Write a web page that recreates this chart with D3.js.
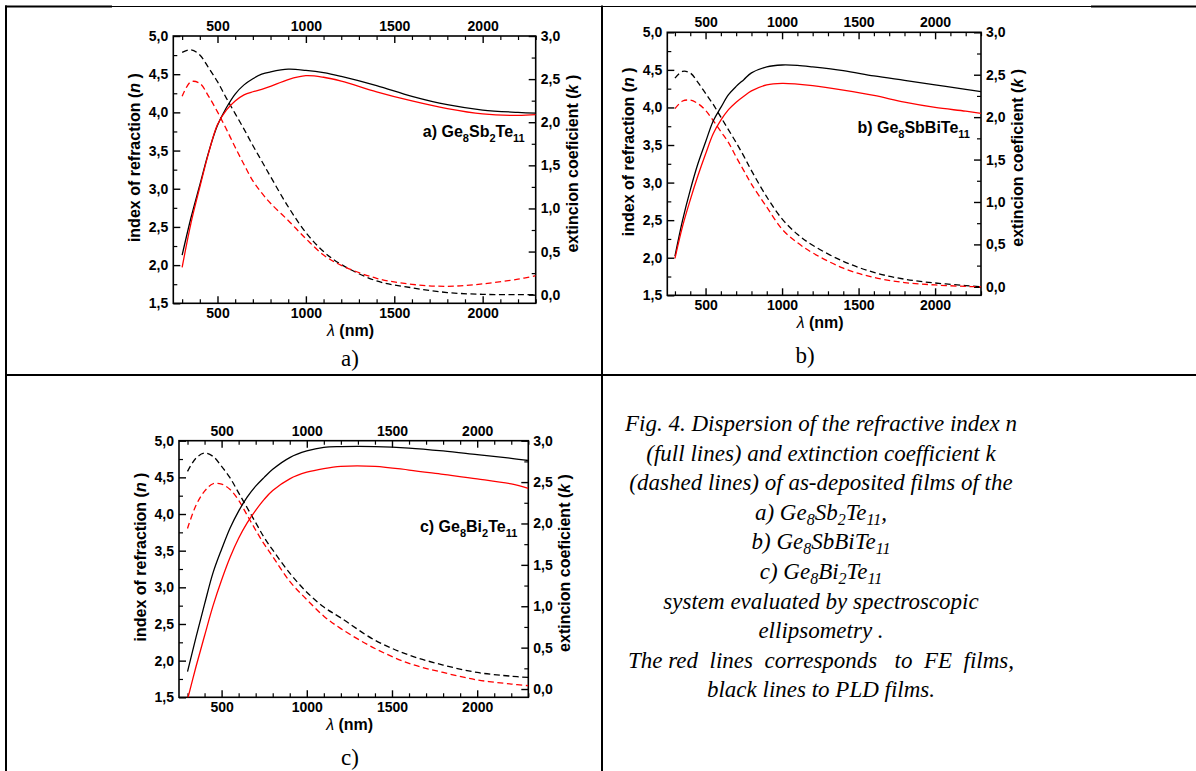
<!DOCTYPE html>
<html>
<head>
<meta charset="utf-8">
<script src="https://cdn.jsdelivr.net/npm/d3@7"></script>
<style>
  html, body { margin: 0; padding: 0; background: #fff; }
  svg { display: block; }
  .tick text { font-family: "Liberation Sans", Arial, sans-serif; font-weight: bold; font-size: 14px; fill: #000; }
</style>
</head>
<body>
<svg id="fig" width="1196" height="771"></svg>
<script>
// Wavelength grid (nm) shared by all curves
const wavelength = [300, 350, 400, 450, 500, 550, 600, 650, 700, 750, 800, 900, 1000, 1100, 1200, 1400, 1600, 1800, 2000, 2200, 2300];

// a) Ge8Sb2Te11
const nPLD_a = [2.13, 2.62, 3.05, 3.48, 3.83, 4.06, 4.24, 4.36, 4.44, 4.50, 4.53, 4.565, 4.55, 4.52, 4.47, 4.35, 4.21, 4.10, 4.03, 4.00, 3.99];
const nFE_a  = [1.97, 2.55, 3.02, 3.47, 3.84, 4.03, 4.15, 4.23, 4.27, 4.30, 4.34, 4.43, 4.48, 4.46, 4.41, 4.27, 4.15, 4.05, 3.98, 3.96, 3.97];
const kPLD_a = [2.81, 2.84, 2.78, 2.63, 2.47, 2.28, 2.10, 1.92, 1.73, 1.55, 1.37, 1.02, 0.72, 0.50, 0.35, 0.16, 0.08, 0.025, 0.004, 0.0, 0.0];
const kFE_a  = [2.30, 2.47, 2.45, 2.30, 2.12, 1.92, 1.71, 1.51, 1.32, 1.18, 1.06, 0.86, 0.65, 0.46, 0.34, 0.19, 0.12, 0.097, 0.125, 0.18, 0.22];

// b) Ge8SbBiTe11
const nPLD_b = [2.02, 2.50, 2.90, 3.25, 3.54, 3.82, 4.00, 4.17, 4.28, 4.37, 4.46, 4.54, 4.565, 4.56, 4.54, 4.49, 4.42, 4.36, 4.30, 4.24, 4.21];
const nFE_b  = [1.99, 2.42, 2.77, 3.09, 3.38, 3.65, 3.83, 3.97, 4.07, 4.15, 4.22, 4.30, 4.32, 4.31, 4.29, 4.23, 4.16, 4.07, 4.00, 3.95, 3.92];
const kPLD_b = [2.46, 2.54, 2.52, 2.41, 2.28, 2.15, 2.00, 1.85, 1.70, 1.54, 1.37, 1.06, 0.80, 0.62, 0.49, 0.30, 0.17, 0.09, 0.045, 0.015, 0.0];
const kFE_b  = [2.10, 2.19, 2.20, 2.16, 2.08, 1.96, 1.83, 1.70, 1.53, 1.37, 1.21, 0.94, 0.68, 0.52, 0.40, 0.22, 0.11, 0.05, 0.022, 0.005, 0.0];

// c) Ge8Bi2Te11
const nPLD_c = [1.85, 2.32, 2.77, 3.20, 3.52, 3.81, 4.04, 4.23, 4.38, 4.50, 4.61, 4.77, 4.86, 4.91, 4.92, 4.92, 4.90, 4.86, 4.81, 4.76, 4.73];
const nFE_c  = [1.47, 1.92, 2.34, 2.75, 3.10, 3.41, 3.67, 3.88, 4.05, 4.20, 4.32, 4.48, 4.57, 4.62, 4.65, 4.65, 4.60, 4.54, 4.48, 4.41, 4.35];
const kPLD_c = [2.63, 2.79, 2.85, 2.81, 2.69, 2.55, 2.37, 2.19, 2.01, 1.83, 1.68, 1.40, 1.17, 0.99, 0.86, 0.59, 0.41, 0.29, 0.20, 0.155, 0.14];
const kFE_c  = [1.94, 2.22, 2.39, 2.48, 2.475, 2.41, 2.28, 2.10, 1.92, 1.75, 1.60, 1.30, 1.08, 0.88, 0.73, 0.49, 0.31, 0.20, 0.11, 0.06, 0.04];

// Axis ticks
const xMajor = [500, 1000, 1500, 2000];
const xMinor = d3.range(300, 2301, 100).filter(v => v % 500 !== 0);
const nMajor = [1.5, 2.0, 2.5, 3.0, 3.5, 4.0, 4.5, 5.0];
const nMinor = [1.75, 2.25, 2.75, 3.25, 3.75, 4.25, 4.75];
const kMajor = [0.0, 0.5, 1.0, 1.5, 2.0, 2.5, 3.0];
const kMinor = [0.25, 0.75, 1.25, 1.75, 2.25, 2.75];

const panels = [
  { id: "a", box: [173.3, 36, 535.7, 303.3], label: "a)", labelPos: [350, 366], formulaDy: 100.5,
    formula: [["a) Ge", 0], ["8", 1], ["Sb", 0], ["2", 1], ["Te", 0], ["11", 1]],
    nPLD: nPLD_a, nFE: nFE_a, kPLD: kPLD_a, kFE: kFE_a },
  { id: "b", box: [667.3, 32.3, 981, 295.3], label: "b)", labelPos: [805, 363], formulaDy: 100.5,
    formula: [["b) Ge", 0], ["8", 1], ["SbBiTe", 0], ["11", 1]],
    nPLD: nPLD_b, nFE: nFE_b, kPLD: kPLD_b, kFE: kFE_b },
  { id: "c", box: [179, 440.7, 528.3, 697.3], label: "c)", labelPos: [350, 765], formulaDy: 91,
    formula: [["c) Ge", 0], ["8", 1], ["Bi", 0], ["2", 1], ["Te", 0], ["11", 1]],
    nPLD: nPLD_c, nFE: nFE_c, kPLD: kPLD_c, kFE: kFE_c }
];

const svg = d3.select("#fig");
const sans = '"Liberation Sans", Arial, sans-serif';
const serif = '"Liberation Serif", "Times New Roman", serif';
const comma = d => d3.format(".1f")(d).replace(".", ",");

// Table grid lines
const grid = svg.append("g").attr("stroke", "#000").attr("fill", "none");
grid.append("line").attr("x1", 5).attr("x2", 112).attr("y1", 6.5).attr("y2", 6.5).attr("stroke-width", 2);
grid.append("line").attr("x1", 112).attr("x2", 1091).attr("y1", 6.5).attr("y2", 6.5).attr("stroke-width", 1);
grid.append("line").attr("x1", 1091).attr("x2", 1196).attr("y1", 6.5).attr("y2", 6.5).attr("stroke-width", 2);
grid.append("line").attr("x1", 6).attr("x2", 6).attr("y1", 5.5).attr("y2", 771).attr("stroke-width", 2);
grid.append("line").attr("x1", 602).attr("x2", 602).attr("y1", 5.5).attr("y2", 771).attr("stroke-width", 2);
grid.append("line").attr("x1", 5).attr("x2", 1196).attr("y1", 375).attr("y2", 375).attr("stroke-width", 2);

panels.forEach(p => {
  const [x0, y0, x1, y1] = p.box;
  const x = d3.scaleLinear().domain([250, 2300]).range([x0, x1]);
  const yN = d3.scaleLinear().domain([1.5, 5.0]).range([y1, y0]);
  const yK = d3.scaleLinear().domain([-0.1, 3.0]).range([y1, y0]);
  const g = svg.append("g");

  const clipId = "clip-" + p.id;
  g.append("clipPath").attr("id", clipId)
    .append("rect").attr("x", x0).attr("y", y0).attr("width", x1 - x0).attr("height", y1 - y0);

  // axes (ticks pointing inward)
  const addAxis = (axis, transform, major, minor, fmt) => {
    const a = g.append("g").attr("transform", transform)
      .call(axis.tickValues(major).tickSize(-7).tickPadding(5).tickFormat(fmt));
    a.select(".domain").remove();
    a.selectAll(".tick line").attr("stroke-width", 1.4);
    const m = g.append("g").attr("transform", transform)
      .call(axis.tickValues(minor).tickSize(-4).tickFormat(""));
    m.select(".domain").remove();
    m.selectAll(".tick line").attr("stroke-width", 1.2);
  };
  addAxis(d3.axisBottom(x), `translate(0,${y1})`, xMajor, xMinor, d3.format("d"));
  addAxis(d3.axisTop(x), `translate(0,${y0})`, xMajor, xMinor, d3.format("d"));
  addAxis(d3.axisLeft(yN), `translate(${x0},0)`, nMajor, nMinor, comma);
  addAxis(d3.axisRight(yK), `translate(${x1},0)`, kMajor, kMinor, comma);

  g.append("rect").attr("x", x0).attr("y", y0).attr("width", x1 - x0).attr("height", y1 - y0)
    .attr("fill", "none").attr("stroke", "#000").attr("stroke-width", 1.6);

  // curves
  const plot = g.append("g").attr("clip-path", `url(#${clipId})`);
  const line = (ys, vals) => d3.line()
    .x((d, i) => x(wavelength[i])).y(d => ys(d))
    .curve(d3.curveCatmullRom.alpha(0.5))(vals);
  const series = [
    { vals: p.kPLD, scale: yK, color: "#000", dash: "6,3.5" },
    { vals: p.kFE, scale: yK, color: "#ff0000", dash: "6,3.5" },
    { vals: p.nPLD, scale: yN, color: "#000", dash: null },
    { vals: p.nFE, scale: yN, color: "#ff0000", dash: null }
  ];
  series.forEach(s => {
    plot.append("path").attr("d", line(s.scale, s.vals))
      .attr("fill", "none").attr("stroke", s.color).attr("stroke-width", 1.3)
      .attr("stroke-dasharray", s.dash);
  });

  // axis titles
  const cx = (x0 + x1) / 2, cy = (y0 + y1) / 2;
  const lt = g.append("text").attr("font-family", sans).attr("font-weight", "bold").attr("font-size", 16)
    .attr("text-anchor", "middle")
    .attr("transform", `translate(${x0 - 37},${cy - 12}) rotate(-90)`)
    .attr("dominant-baseline", "middle");
  lt.append("tspan").text("index of refraction (");
  lt.append("tspan").attr("font-style", "italic").text("n");
  lt.append("tspan").text(" )");

  const rt = g.append("text").attr("font-family", sans).attr("font-weight", "bold").attr("font-size", 16)
    .attr("text-anchor", "middle")
    .attr("transform", `translate(${x1 + 38},${cy - 6}) rotate(-90)`)
    .attr("dominant-baseline", "middle");
  rt.append("tspan").text("extincion coeficient (");
  rt.append("tspan").attr("font-style", "italic").text("k");
  rt.append("tspan").text(" )");

  const xt = g.append("text").attr("font-family", sans).attr("font-weight", "bold").attr("font-size", 16)
    .attr("text-anchor", "middle").attr("x", cx - 4).attr("y", y1 + 33);
  xt.append("tspan").attr("font-style", "italic").attr("font-weight", "normal").text("λ");
  xt.append("tspan").text(" (nm)");

  // composition annotation
  const ft = g.append("text").attr("font-family", sans).attr("font-weight", "bold").attr("font-size", 16)
    .attr("text-anchor", "end").attr("x", x1 - 11).attr("y", y0 + p.formulaDy);
  let sub = false;
  p.formula.forEach(([t, s]) => {
    const ts = ft.append("tspan").text(t);
    if (s && !sub) { ts.attr("dy", 5).attr("font-size", 11); sub = true; }
    else if (s) { ts.attr("font-size", 11); }
    else if (!s && sub) { ts.attr("dy", -5); sub = false; }
  });

  // panel letter
  svg.append("text").attr("font-family", serif).attr("font-size", 23)
    .attr("text-anchor", "middle").attr("x", p.labelPos[0]).attr("y", p.labelPos[1])
    .text(p.label);
});

// caption
const caption = [
  [["Fig. 4. Dispersion of the refractive index n", 0]],
  [["(full lines) and extinction coefficient k", 0]],
  [["(dashed lines) of as-deposited films of the", 0]],
  [["a) Ge", 0], ["8", 1], ["Sb", 0], ["2", 1], ["Te", 0], ["11", 1], [",", 0]],
  [["b) Ge", 0], ["8", 1], ["SbBiTe", 0], ["11", 1]],
  [["c) Ge", 0], ["8", 1], ["Bi", 0], ["2", 1], ["Te", 0], ["11", 1]],
  [["system evaluated by spectroscopic", 0]],
  [["ellipsometry .", 0]],
  [["The red  lines  corresponds   to  FE  films,", 0]],
  [["black lines to PLD films.", 0]]
];
caption.forEach((parts, i) => {
  const t = svg.append("text").attr("font-family", serif).attr("font-style", "italic")
    .attr("font-size", 23).attr("text-anchor", "middle")
    .attr("x", 821).attr("y", 431 + i * 29.6).attr("xml:space", "preserve")
    .style("white-space", "pre");
  let sub = false;
  parts.forEach(([s, isSub]) => {
    const ts = t.append("tspan").text(s);
    if (isSub && !sub) { ts.attr("dy", 5).attr("font-size", 16); sub = true; }
    else if (isSub) { ts.attr("font-size", 16); }
    else if (sub) { ts.attr("dy", -5); sub = false; }
  });
});
</script>
</body>
</html>
